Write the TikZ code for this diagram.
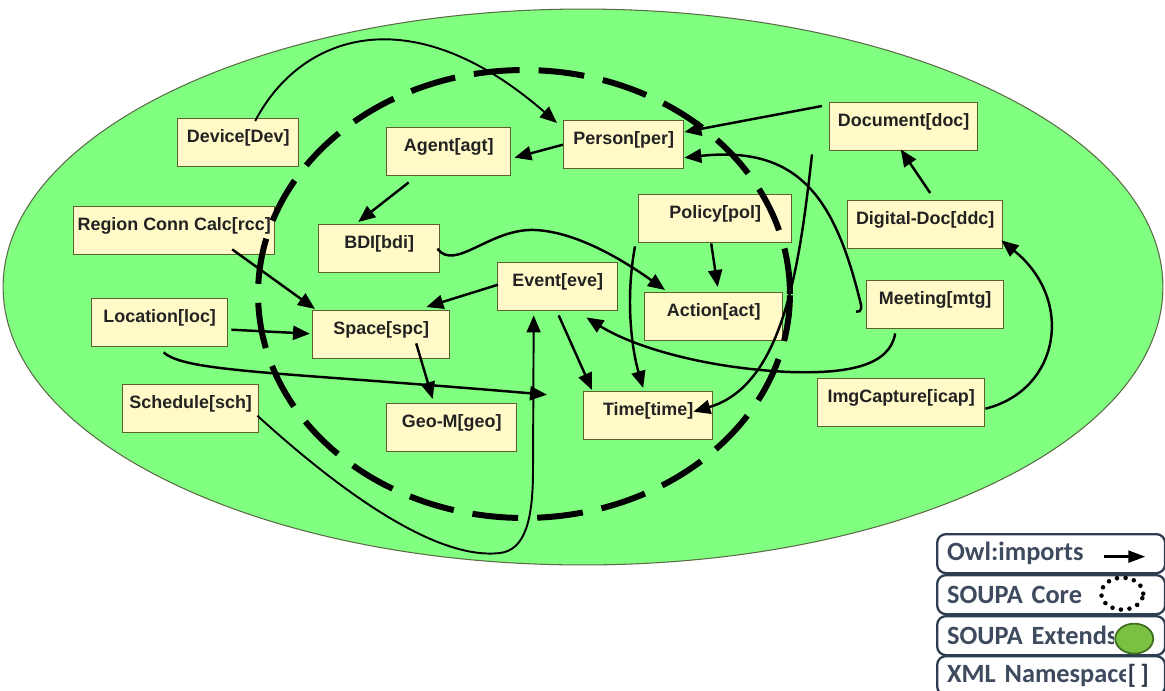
\documentclass[tikz,border=0pt]{standalone}
\usepackage{fontspec}
\setmainfont{Liberation Sans}
\newfontfamily\legendfont{Carlito}
\usetikzlibrary{arrows.meta,calc}
\definecolor{ovalgreen}{HTML}{80FF80}
\definecolor{ovalrim}{HTML}{5A6B46}
\definecolor{boxfill}{HTML}{FFFAC8}
\definecolor{boxrim}{HTML}{5E5E2E}
\definecolor{boxtext}{HTML}{222222}
\definecolor{legtext}{HTML}{3E4A5E}
\definecolor{legrim}{HTML}{2F3D52}
\definecolor{extgreen}{HTML}{7AC143}
\definecolor{extrim}{HTML}{3F6E1F}
\begin{document}
\begin{tikzpicture}[x=0.02cm,y=-0.02cm,
  cls/.style={draw=boxrim, fill=boxfill, line width=0.8pt, inner sep=0pt,
    anchor=north west, text height=0.48cm, text depth=0.48cm,
    font=\bfseries\fontsize{10.2}{12}\selectfont, text=boxtext},
  imp/.style={line width=1.4pt, -{Triangle[length=0.34cm,width=0.28cm]}},
  thinimp/.style={line width=1.1pt, -{Triangle[length=0.34cm,width=0.28cm]}},
  legbox/.style={draw=legrim, fill=white, line width=1.3pt, rounded corners=5pt,
    anchor=north west, minimum height=0.78cm, text width=4.16cm, inner xsep=0.2cm,
    align=left, font=\legendfont\bfseries\fontsize{15}{17}\selectfont, text=legtext}]
\useasboundingbox (0,0) rectangle (1165,690);

% SOUPA extension space
\fill[ovalgreen, draw=ovalrim, line width=0.6pt] (583,287) ellipse [x radius=11.6cm, y radius=5.56cm];

% ontology namespaces
\node[cls, minimum width=2.42cm] (dev)  at (177,118) {Device[Dev]};
\node[cls, minimum width=2.48cm] (agt)  at (386,127) {Agent[agt]};
\node[cls, minimum width=2.40cm] (per)  at (563,120) {Person[per]};
\node[cls, minimum width=4.02cm] (rcc)  at (73,206)  {Region Conn Calc[rcc]};
\node[cls, minimum width=2.42cm] (bdi)  at (318,224) {BDI[bdi]};
\node[cls, minimum width=2.72cm] (loc)  at (91,298)  {Location[loc]};
\node[cls, minimum width=2.74cm] (spc)  at (312,310) {Space[spc]};
\node[cls, minimum width=2.72cm] (sch)  at (122,384) {Schedule[sch]};
\node[cls, minimum width=2.60cm] (geo)  at (386,403) {Geo-M[geo]};
\node[cls, minimum width=2.40cm] (eve)  at (497,262) {Event[eve]};
\node[cls, minimum width=3.06cm] (pol)  at (638,194) {Policy[pol]};
\node[cls, minimum width=2.76cm] (act)  at (644,292) {Action[act]};
\node[cls, minimum width=2.58cm] (tim)  at (583,391) {Time[time]};
\node[cls, minimum width=2.96cm] (doc)  at (829,102) {Document[doc]};
\node[cls, minimum width=3.10cm] (ddc)  at (847,200) {Digital-Doc[ddc]};
\node[cls, minimum width=2.74cm] (mtg)  at (866,280) {Meeting[mtg]};
\node[cls, minimum width=3.34cm] (icap) at (817,378) {ImgCapture[icap]};

% SOUPA core boundary
\draw[line width=0.12cm, dash pattern=on 0.92cm off 0.38cm] (524,294) ellipse [x radius=5.32cm, y radius=4.48cm];

% owl:imports relations
\draw[thinimp] ($(dev.north)+(17,3)$) .. controls (300,35) and (410,-5) .. ($(per.north west)+(-6,3)$);
\draw[imp] (per.west) -- ($(agt.east)+(3,6)$);
\draw[imp] ($(agt.south)+(-40,6)$) -- ($(bdi.north)+(-21,-2)$);
\draw[imp] ($(doc.north west)+(-7,4)$) -- ($(per.north east)+(0,12)$);
\draw[imp] ($(mtg.west)+(-10,7)$) .. controls ($(mtg.west)+(-4,8)$) and ($(mtg.west)+(-4,2)$) .. ($(mtg.west)+(-6,-4)$)
  .. controls (835,200) and (800,145) .. ($(per.east)+(0,13)$);
\draw[imp] ($(doc.south west)+(-17,3)$) .. controls (800,260) and (785,385) .. ($(tim.east)+(-20,-4)$);
\draw[imp] ($(pol.south)+(-4,0)$) -- ($(act.north)+(4,-5)$);
\draw[imp] ($(pol.south west)+(-3,3)$) .. controls (625,300) and (632,350) .. ($(tim.north)+(-5,-3)$);
\draw[imp] ($(bdi.east)+(-3,0)$) .. controls (455,272) and (490,228) .. (535,230)
  .. controls (580,232) and (630,265) .. ($(act.north west)+(21,-2)$);
\draw[imp] ($(eve.west)+(1,-2)$) -- ($(spc.north east)+(-24,-3)$);
\draw[imp] ($(rcc.south)+(58,-6)$) -- ($(spc.north west)+(3,-1)$);
\draw[imp] ($(loc.east)+(3,7)$) -- ($(spc.west)+(-2,-1)$);
\draw[imp] ($(loc.south)+(4,5)$) .. controls (185,372) and (280,372) .. ($(tim.west)+(-36,-21)$);
\draw[imp] ($(spc.south)+(35,-16)$) -- ($(geo.north)+(-19,-4)$);
\draw[imp] ($(eve.south)+(1,4)$) -- ($(tim.north west)+(9,-1)$);
\draw[imp] ($(mtg.south)+(-40,4)$) .. controls (890,365) and (850,374) .. (790,372)
  .. controls (700,368) and (630,345) .. ($(eve.south east)+(-32,6)$);
\draw[thinimp] ($(sch.east)+(-2,7)$) .. controls (350,500) and (440,560) .. (500,553)
  .. controls (525,550) and (533,520) .. (533,470) -- ($(eve.south)+(-24,4)$);
\draw[imp] ($(icap.east)+(0,6)$) .. controls (1060,390) and (1075,300) .. ($(ddc.south east)+(-2,-9)$);
\draw[imp] ($(ddc.north)+(5,-7)$) -- ($(doc.south)+(-3,-2)$);

% legend
\node[legbox] (lgimp)  at (936,533) {Owl:imports};
\node[legbox] (lgcore) at (936,574) {SOUPA Core};
\node[legbox] (lgext)  at (936,615) {SOUPA Extends};
\node[legbox] (lgxml)  at (936,655) {XML Namespace};
\draw[line width=1.4pt, -{Triangle[length=0.34cm,width=0.24cm]}]
  ($(lgimp.east)+(-62,3)$) -- ($(lgimp.east)+(-21,3)$);
\draw[line width=2.6pt, line cap=round, dash pattern=on 0pt off 4.9pt]
  ($(lgcore.east)+(-44,-1)$) ellipse [x radius=0.42cm, y radius=0.32cm];
\fill[white] ($(lgext.east)+(-52,-17)$) rectangle ($(lgext.east)+(-12,18)$);
\filldraw[fill=extgreen, draw=extrim, line width=1pt]
  ($(lgext.east)+(-32,3)$) ellipse [x radius=0.38cm, y radius=0.30cm];
\fill[white] ($(lgxml.east)+(-40,-17)$) rectangle ($(lgxml.east)+(-12,18)$);
\node[font=\legendfont\bfseries\fontsize{15}{17}\selectfont, text=legtext!80!black, inner sep=0pt]
  (lgbr) at ($(lgxml.east)+(-28,0)$) {[\,]};
\end{tikzpicture}
\end{document}
